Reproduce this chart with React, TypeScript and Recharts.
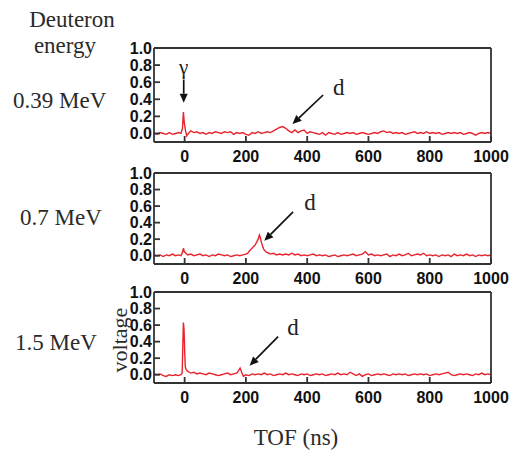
import React from 'react';
import { LineChart, Line, XAxis, YAxis, ReferenceLine, ReferenceDot } from 'recharts';

// ---- data ----
const xTicks = [0, 200, 400, 600, 800, 1000];
const yTicks = [0, 0.2, 0.4, 0.6, 0.8, 1.0];
const energyLabels = ['0.39 MeV', '0.7 MeV', '1.5 MeV'];

const tof1 = [-100, -90, -80, -70, -60, -50, -40, -30, -20, -12, -7, -4, -1, 3, 7, 12, 20, 30, 40, 50, 60, 70, 80, 90, 100, 110, 120, 130, 140, 150, 160, 170, 180, 190, 200, 210, 220, 230, 240, 250, 260, 270, 280, 290, 300, 310, 320, 330, 340, 350, 360, 370, 380, 390, 400, 410, 420, 430, 440, 450, 460, 470, 480, 490, 500, 510, 520, 530, 540, 550, 560, 570, 580, 590, 600, 610, 620, 630, 640, 650, 660, 670, 680, 690, 700, 710, 720, 730, 740, 750, 760, 770, 780, 790, 800, 810, 820, 830, 840, 850, 860, 870, 880, 890, 900, 910, 920, 930, 940, 950, 960, 970, 980, 990, 1000];
const volt1 = [0.0, -0.01, 0.01, 0.0, -0.01, 0.01, -0.01, 0.0, 0.01, 0.0, 0.06, 0.25, 0.12, 0.03, -0.03, 0.0, 0.03, 0.01, 0.02, 0.0, 0.01, -0.01, 0.01, 0.0, 0.02, 0.01, 0.0, 0.02, 0.01, 0.02, -0.01, 0.01, 0.0, 0.01, -0.01, -0.02, 0.01, 0.0, 0.02, 0.0, 0.01, 0.02, 0.01, 0.03, 0.05, 0.07, 0.08, 0.06, 0.03, 0.01, 0.04, 0.01, 0.03, 0.04, 0.0, 0.02, 0.01, 0.0, -0.01, 0.01, -0.02, 0.01, 0.0, -0.01, 0.01, -0.01, 0.0, 0.01, 0.0, 0.01, -0.01, 0.0, 0.01, 0.0, -0.01, 0.0, 0.01, 0.0, 0.02, 0.03, 0.01, 0.02, 0.0, 0.01, 0.0, 0.01, -0.01, 0.0, 0.01, 0.02, 0.0, 0.01, 0.0, 0.02, 0.0, 0.01, 0.0, 0.01, -0.01, 0.0, 0.01, 0.0, 0.01, 0.0, 0.01, -0.01, 0.0, 0.01, 0.0, -0.02, 0.0, 0.01, 0.0, 0.01, 0.0];

const tof2 = [-100, -90, -80, -70, -60, -50, -40, -30, -20, -12, -7, -4, -1, 4, 10, 20, 30, 40, 50, 60, 70, 80, 90, 100, 110, 120, 130, 140, 150, 160, 170, 180, 190, 200, 206, 212, 218, 224, 230, 236, 240, 244, 247, 250, 254, 258, 262, 268, 275, 280, 290, 300, 310, 320, 330, 340, 350, 360, 370, 380, 390, 400, 410, 420, 430, 440, 450, 460, 470, 480, 490, 500, 510, 520, 530, 540, 550, 560, 570, 580, 590, 600, 610, 620, 630, 640, 650, 660, 670, 680, 690, 700, 710, 720, 730, 740, 750, 760, 770, 780, 790, 800, 810, 820, 830, 840, 850, 860, 870, 880, 890, 900, 910, 920, 930, 940, 950, 960, 970, 980, 990, 1000];
const volt2 = [0.01, 0.0, 0.01, -0.01, 0.01, 0.0, 0.02, 0.0, 0.01, 0.0, 0.04, 0.09, 0.05, 0.03, 0.01, 0.02, 0.0, 0.01, 0.02, 0.0, 0.01, -0.01, 0.01, 0.0, 0.02, 0.01, 0.0, 0.01, -0.01, 0.0, 0.01, 0.0, 0.01, 0.02, 0.03, 0.06, 0.08, 0.11, 0.13, 0.17, 0.2, 0.25, 0.22, 0.17, 0.12, 0.08, 0.06, 0.04, 0.03, 0.02, 0.03, 0.01, 0.02, 0.01, 0.02, 0.01, 0.03, 0.01, 0.02, 0.0, 0.01, 0.0, 0.01, 0.02, 0.0, 0.01, 0.0, 0.01, -0.01, 0.0, 0.01, -0.01, 0.0, 0.01, 0.0, 0.01, 0.02, 0.0, 0.01, 0.02, 0.05, 0.01, 0.02, 0.0, 0.01, 0.0, 0.01, 0.02, -0.01, 0.01, 0.0, 0.02, 0.0, 0.01, 0.03, 0.0, 0.01, 0.02, 0.01, 0.03, 0.0, 0.01, 0.0, 0.01, -0.01, 0.01, 0.0, 0.01, -0.01, 0.02, 0.0, 0.01, 0.0, 0.02, 0.0, 0.01, -0.01, 0.01, 0.0, 0.01, 0.0, 0.01];

const tof3 = [-100, -90, -80, -70, -60, -50, -40, -30, -20, -12, -8, -6, -4, -2, 0, 2, 5, 10, 15, 20, 30, 40, 50, 60, 70, 80, 90, 100, 110, 120, 130, 140, 150, 160, 170, 176, 181, 186, 192, 200, 210, 220, 230, 240, 250, 260, 270, 280, 290, 300, 310, 320, 330, 340, 350, 360, 370, 380, 390, 400, 410, 420, 430, 440, 450, 460, 470, 480, 490, 500, 510, 520, 530, 540, 550, 560, 570, 580, 590, 600, 610, 620, 630, 640, 650, 660, 670, 680, 690, 700, 710, 720, 730, 740, 750, 760, 770, 780, 790, 800, 810, 820, 830, 840, 850, 860, 870, 880, 890, 900, 910, 920, 930, 940, 950, 960, 970, 980, 990, 1000];
const volt3 = [0.01, 0.0, 0.01, -0.01, -0.02, 0.0, -0.01, 0.0, -0.01, 0.0, 0.02, 0.35, 0.63, 0.55, 0.3, 0.1, 0.06, 0.04, 0.03, 0.02, 0.03, 0.01, 0.02, 0.01, 0.0, 0.02, 0.01, 0.0, -0.01, 0.0, 0.01, 0.02, 0.0, 0.01, 0.02, 0.05, 0.08, 0.03, -0.02, 0.0, -0.01, 0.01, 0.0, 0.01, 0.0, 0.02, 0.0, 0.01, -0.01, 0.0, 0.01, 0.0, 0.02, 0.0, 0.01, 0.0, -0.01, 0.01, 0.0, 0.01, -0.01, 0.0, 0.01, 0.0, 0.01, -0.01, 0.0, 0.01, 0.0, 0.02, 0.0, 0.01, 0.0, 0.03, 0.01, -0.01, 0.01, -0.02, 0.0, 0.01, -0.01, 0.0, 0.01, 0.0, 0.01, 0.0, -0.01, 0.01, 0.0, 0.01, 0.0, 0.01, -0.01, 0.0, 0.01, 0.0, 0.01, 0.0, 0.01, -0.01, 0.0, 0.01, 0.0, 0.01, 0.02, 0.03, 0.0, -0.01, 0.0, 0.01, 0.0, 0.01, 0.0, -0.01, 0.01, 0.0, 0.02, 0.0, 0.01, 0.0];

const build = (t: number[], v: number[]) => t.map((x, i) => ({ t: x, v: v[i] }));
const data1 = build(tof1, volt1);
const data2 = build(tof2, volt2);
const data3 = build(tof3, volt3);

// annotation anchors (data coordinates)
const dLabels = [
  { x: 503, y: 0.54 },
  { x: 409, y: 0.64 },
  { x: 354, y: 0.565 },
];
const dArrows = [
  [{ x: 452, y: 0.45 }, { x: 352, y: 0.11 }],
  [{ x: 354, y: 0.53 }, { x: 260, y: 0.18 }],
  [{ x: 305, y: 0.46 }, { x: 212, y: 0.11 }],
];
const gammaLabel = { x: -3, y: 0.78 };
const gammaArrow = [{ x: -3, y: 0.63 }, { x: -3, y: 0.36 }];

const RED = '#e8232c';
const AXIS = '#333333';
const TICK_FONT = { fill: '#111', fontSize: 16, fontWeight: 'bold', fontFamily: 'Liberation Sans, Arial, sans-serif' };
const SERIF = "'Liberation Serif', 'Times New Roman', serif";

const ArrowShape = (p: any) => {
  const { x1, y1, x2, y2 } = p;
  const ang = Math.atan2(y2 - y1, x2 - x1);
  const hl = 9;
  const hw = 4;
  const bx = x2 - hl * Math.cos(ang);
  const by = y2 - hl * Math.sin(ang);
  const nx = -Math.sin(ang) * hw;
  const ny = Math.cos(ang) * hw;
  return (
    <g>
      <line x1={x1} y1={y1} x2={bx} y2={by} stroke="#111" strokeWidth={1.7} />
      <polygon points={`${x2},${y2} ${bx + nx},${by + ny} ${bx - nx},${by - ny}`} fill="#111" />
    </g>
  );
};

const textShape = (label: string, size: number) => (p: any) => (
  <text x={p.cx} y={p.cy} textAnchor="middle" dominantBaseline="central" fontFamily={SERIF} fontSize={size} fill="#222">
    {label}
  </text>
);

const Panel = ({ data, plotTop, h, idx }: { data: any[]; plotTop: number; h: number; idx: number }) => {
  const arrow = dArrows[idx];
  return (
    <div style={{ position: 'absolute', left: 0, top: plotTop - 10 }}>
      <LineChart width={517} height={h + 40} data={data} margin={{ top: 9, right: 25, bottom: 5, left: 114 }}>
        <XAxis xAxisId="b" dataKey="t" type="number" domain={[-100, 1000]} ticks={xTicks} allowDataOverflow
          height={25} stroke={AXIS} strokeWidth={1.8} tickSize={-6} tickMargin={15} tick={TICK_FONT} />
        <XAxis xAxisId="t" orientation="top" dataKey="t" type="number" domain={[-100, 1000]} ticks={xTicks} allowDataOverflow
          height={1} stroke={AXIS} strokeWidth={1.8} tickSize={-6} tick={false} />
        <YAxis yAxisId="l" type="number" domain={[-0.1, 1]} ticks={yTicks} allowDataOverflow width={40}
          stroke={AXIS} strokeWidth={1.8} tickSize={-6} tickMargin={8} tick={TICK_FONT}
          tickFormatter={(v: number) => v.toFixed(1)} interval={0} />
        <YAxis yAxisId="r" orientation="right" type="number" domain={[-0.1, 1]} ticks={yTicks} allowDataOverflow width={1}
          stroke={AXIS} strokeWidth={1.8} tickSize={-6} tick={false} />
        <Line xAxisId="b" yAxisId="l" dataKey="v" type="linear" stroke={RED} strokeWidth={1.4} dot={false} isAnimationActive={false} />
        {idx === 0 && (
          <ReferenceLine xAxisId="b" yAxisId="l" segment={gammaArrow} shape={ArrowShape} ifOverflow="visible" />
        )}
        {idx === 0 && (
          <ReferenceDot xAxisId="b" yAxisId="l" x={gammaLabel.x} y={gammaLabel.y} r={0} shape={textShape('γ', 21)} ifOverflow="visible" />
        )}
        <ReferenceLine xAxisId="b" yAxisId="l" segment={arrow} shape={ArrowShape} ifOverflow="visible" />
        <ReferenceDot xAxisId="b" yAxisId="l" x={dLabels[idx].x} y={dLabels[idx].y} r={0} shape={textShape('d', 23)} ifOverflow="visible" />
      </LineChart>
    </div>
  );
};

export default function App() {
  return (
    <div style={{ position: 'absolute', left: 0, top: 0, width: 517, height: 450, background: '#fff' }}>
      <Panel data={data1} plotTop={48} h={94} idx={0} />
      <Panel data={data2} plotTop={173} h={91} idx={1} />
      <Panel data={data3} plotTop={292} h={91} idx={2} />
      <svg width={517} height={450} style={{ position: 'absolute', left: 0, top: 0, pointerEvents: 'none' }}>
        <g fontFamily={SERIF} fill="#2a2a2a" fontSize={23}>
          <text x={72} y={27} textAnchor="middle">Deuteron</text>
          <text x={65} y={53} textAnchor="middle">energy</text>
          <text x={13} y={108}>{energyLabels[0]}</text>
          <text x={20} y={225}>{energyLabels[1]}</text>
          <text x={15} y={350}>{energyLabels[2]}</text>
          <text x={296} y={445} textAnchor="middle">TOF (ns)</text>
          <text x={119} y={340} textAnchor="middle" dominantBaseline="central" fontSize={22} transform="rotate(-90, 119, 340)">voltage</text>
        </g>
      </svg>
    </div>
  );
}
